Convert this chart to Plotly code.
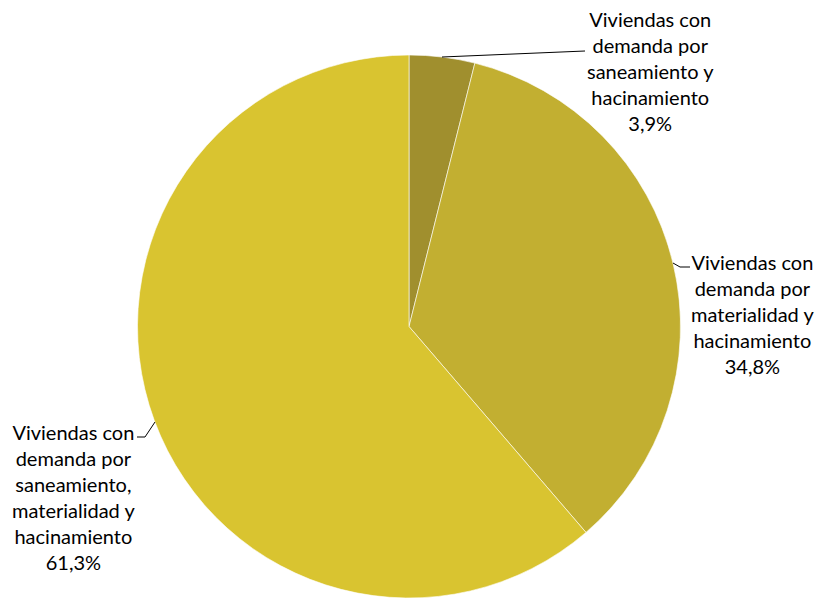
import plotly.graph_objects as go

W, H = 817, 599

categories = [
    "Viviendas con<br>demanda por<br>saneamiento y<br>hacinamiento",
    "Viviendas con<br>demanda por<br>materialidad y<br>hacinamiento",
    "Viviendas con<br>demanda por<br>saneamiento,<br>materialidad y<br>hacinamiento",
]
values = [3.9, 34.8, 61.3]
colors = ["#A08F2E", "#C2AF31", "#D9C430"]

def px(x):
    return x / W

def py(y):
    return 1 - y / H

fig = go.Figure(go.Pie(
    labels=categories,
    values=values,
    sort=False,
    direction="clockwise",
    rotation=0,
    marker=dict(colors=colors, line=dict(color="rgba(255,255,255,0.6)", width=1)),
    textinfo="none",
    hoverinfo="label+percent",
    showlegend=False,
    domain=dict(x=[px(137), px(681)], y=[py(598), py(55)]),
))

label_pos = [(650, 71), (752, 314), (73, 497)]
font = dict(family="Lato, Open Sans, sans-serif", size=20, color="#000000")
for cat, val, (x, y) in zip(categories, values, label_pos):
    txt = f"{cat}<br>{val:.1f}%".replace(".", ",")
    fig.add_annotation(x=px(x), y=py(y), xref="paper", yref="paper",
                       text=txt, showarrow=False, align="center",
                       xanchor="center", yanchor="middle", font=font)

leaders = [
    [(442, 57), (585, 51)],
    [(673, 263), (680, 267), (690, 267)],
    [(137, 437), (145, 437), (155, 422)],
]
for pts in leaders:
    path = "M " + " L ".join(f"{px(a)},{py(b)}" for a, b in pts)
    fig.add_shape(type="path", path=path, xref="paper", yref="paper",
                  line=dict(color="#000000", width=1))

fig.update_layout(width=W, height=H, margin=dict(l=0, r=0, t=0, b=0),
                  paper_bgcolor="white", plot_bgcolor="white")
fig.write_html("out.html", config={"displayModeBar": False},
               post_script="document.body.style.margin='0';")
